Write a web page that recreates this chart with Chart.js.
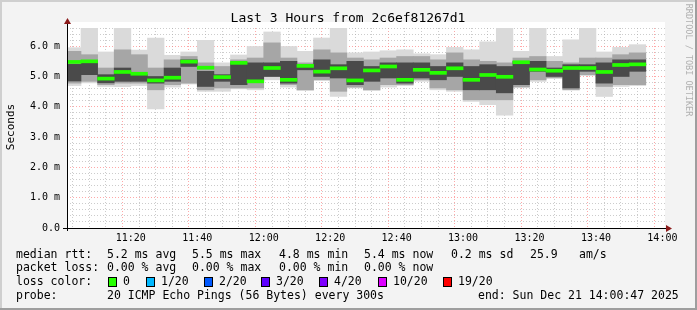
<!DOCTYPE html>
<html>
<head>
<meta charset="utf-8">
<script src="https://cdn.jsdelivr.net/npm/chart.js@4/dist/chart.umd.min.js"></script>
<style>
  html, body { margin: 0; padding: 0; background: #f3f3f3; }
  #pingChart { display: block; }
</style>
</head>
<body>
<canvas id="pingChart" width="697" height="310"></canvas>
<script>
// 5 minute bins (start time of each bin)
const binStarts = ["11:00", "11:05", "11:10", "11:15", "11:20", "11:25", "11:30", "11:35", "11:40",
  "11:45", "11:50", "11:55", "12:00", "12:05", "12:10", "12:15", "12:20", "12:25", "12:30",
  "12:35", "12:40", "12:45", "12:50", "12:55", "13:00", "13:05", "13:10", "13:15", "13:20",
  "13:25", "13:30", "13:35", "13:40", "13:45", "13:50"];

// median rtt (ms)
const medianRtt = [5.48, 5.50, 4.93, 5.15, 5.09, 4.87, 4.96, 5.49, 5.29, 4.98, 5.45, 4.84,
  5.28, 4.89, 5.35, 5.16, 5.27, 4.87, 5.20, 5.33, 4.89, 5.22, 5.12, 5.27, 4.89, 5.05,
  4.99, 5.47, 5.23, 5.19, 5.28, 5.28, 5.15, 5.38, 5.40];

// smoke: outer (min/max), middle and core bands (ms)
const smokeMax = [5.95, 6.61, 5.81, 6.61, 5.87, 6.27, 5.70, 5.81, 6.19, 5.45, 5.71, 5.99,
  6.47, 5.99, 5.83, 6.27, 6.61, 5.78, 5.81, 5.85, 5.88, 5.75, 5.72, 5.96, 5.88, 6.14,
  6.62, 5.83, 6.61, 5.66, 6.21, 6.61, 5.81, 5.96, 6.05];
const smokeMin = [4.70, 4.79, 4.67, 4.66, 4.70, 3.93, 4.65, 4.75, 4.51, 4.51, 4.59, 4.56,
  4.89, 4.65, 4.54, 4.87, 4.34, 4.62, 4.54, 4.65, 4.70, 4.84, 4.56, 4.51, 4.18, 4.07,
  3.72, 4.65, 4.84, 4.95, 4.56, 5.03, 4.34, 4.67, 4.70];
const midHi = [5.83, 5.72, 5.28, 5.88, 5.72, 5.28, 5.55, 5.66, 5.45, 5.33, 5.55, 5.61,
  6.11, 5.61, 5.45, 5.88, 5.78, 5.61, 5.55, 5.61, 5.66, 5.66, 5.55, 5.78, 5.55, 5.50,
  5.45, 5.61, 5.66, 5.50, 5.45, 5.61, 5.61, 5.72, 5.78];
const midLo = [4.78, 4.84, 4.73, 4.78, 4.78, 4.56, 4.73, 4.78, 4.56, 4.62, 4.62, 4.62,
  5.00, 4.73, 4.56, 4.89, 4.51, 4.65, 4.56, 4.73, 4.73, 4.89, 4.62, 4.56, 4.23, 4.23,
  4.23, 4.65, 4.89, 4.95, 4.56, 5.06, 4.67, 4.73, 4.73];
const coreHi = [5.40, 5.50, 5.06, 5.28, 5.06, 5.00, 5.28, 5.55, 5.17, 5.06, 5.45, 5.45,
  5.45, 5.50, 5.39, 5.55, 5.39, 5.50, 5.33, 5.45, 5.45, 5.45, 5.33, 5.45, 5.33, 5.39,
  5.33, 5.50, 5.50, 5.28, 5.39, 5.39, 5.45, 5.55, 5.55];
const coreLo = [4.85, 5.06, 4.79, 4.84, 4.84, 4.78, 4.84, 5.33, 4.67, 4.84, 4.73, 4.84,
  5.00, 4.78, 5.22, 5.00, 4.95, 4.73, 4.84, 4.95, 4.78, 4.95, 4.89, 5.00, 4.56, 4.56,
  4.46, 4.73, 5.17, 5.00, 4.62, 5.17, 4.78, 5.00, 5.17];

// axes
const xTickTimes = ["11:05", "11:10", "11:15", "11:20", "11:25", "11:30", "11:35", "11:40", "11:45",
  "11:50", "11:55", "12:00", "12:05", "12:10", "12:15", "12:20", "12:25", "12:30", "12:35",
  "12:40", "12:45", "12:50", "12:55", "13:00", "13:05", "13:10", "13:15", "13:20", "13:25",
  "13:30", "13:35", "13:40", "13:45", "13:50", "13:55", "14:00"];
const xLabelTimes = ["11:20", "11:40", "12:00", "12:20", "12:40", "13:00", "13:20", "13:40", "14:00"];
const rangeStart = "11:00:47";
const rangeEnd = "14:00:47";

// legend texts
const rttStats = ["5.2 ms avg", "5.5 ms max", "4.8 ms min", "5.4 ms now", "0.2 ms sd", "25.9", "am/s"];
const lossStats = ["0.00 % avg", "0.00 % max", "0.00 % min", "0.00 % now"];
const lossLabels = ["0", "1/20", "2/20", "3/20", "4/20", "10/20", "19/20"];
const lossColors = ["#26ff00", "#00b8ff", "#0059ff", "#5e00ff", "#7e00ff", "#dd00ff", "#ff0000"];
const probeText = "20 ICMP Echo Pings (56 Bytes) every 300s";
const endText = "end: Sun Dec 21 14:00:47 2025";

// minutes after 11:00
function toMin(t) {
  var p = t.split(":").map(Number);
  return (p[0] - 11) * 60 + p[1] + (p[2] || 0) / 60;
}

function band(lo, hi) {
  return binStarts.map((t, i) => ({ x: toMin(t) + 2.5, y: [lo[i], hi[i]] }));
}

const mono = '"DejaVu Sans Mono", "Liberation Mono", monospace';
const xMajor = xLabelTimes.map(toMin);
const majorColor = "rgba(255, 110, 110, 0.6)";
const minorColor = "rgba(170, 170, 170, 0.6)";

const rrdFrame = {
  id: "rrdFrame",
  beforeDraw(chart) {
    const c = chart.ctx, a = chart.chartArea, w = chart.width, h = chart.height;
    c.save();
    c.fillStyle = "#f3f3f3";
    c.fillRect(0, 0, w, h);
    c.fillStyle = "#cfcfcf";
    c.fillRect(0, 0, w, 2);
    c.fillRect(0, 0, 2, h);
    c.fillStyle = "#9e9e9e";
    c.fillRect(0, h - 2, w, 2);
    c.fillRect(w - 2, 0, 2, h);
    c.fillStyle = "#ffffff";
    c.fillRect(a.left, a.top - 6, a.right - a.left, a.bottom - a.top + 6);
    c.restore();
  },
  afterDraw(chart) {
    const c = chart.ctx, a = chart.chartArea;
    c.save();
    // axes with arrows
    c.strokeStyle = "#000";
    c.lineWidth = 1;
    c.beginPath();
    c.moveTo(a.left + 0.5, a.bottom + 3);
    c.lineTo(a.left + 0.5, a.top - 6);
    c.moveTo(a.left - 4, a.bottom + 0.5);
    c.lineTo(a.right + 2, a.bottom + 0.5);
    c.stroke();
    c.fillStyle = "#8b1a1a";
    c.beginPath();
    c.moveTo(a.left + 0.5, a.top - 10);
    c.lineTo(a.left - 3, a.top - 4);
    c.lineTo(a.left + 4, a.top - 4);
    c.fill();
    c.beginPath();
    c.moveTo(a.right + 7, a.bottom + 0.5);
    c.lineTo(a.right + 1, a.bottom - 3);
    c.lineTo(a.right + 1, a.bottom + 4);
    c.fill();

    // title
    c.fillStyle = "#000";
    c.font = "13px " + mono;
    c.textAlign = "center";
    c.textBaseline = "middle";
    c.fillText("Last 3 Hours from 2c6ef81267d1", 348, 19);

    // y title
    c.font = "11px " + mono;
    c.translate(11, 127);
    c.rotate(-Math.PI / 2);
    c.fillText("Seconds", 0, 0);
    c.setTransform(1, 0, 0, 1, 0, 0);

    // watermark
    c.fillStyle = "#b0b0b0";
    c.font = "8.5px " + mono;
    c.translate(688, 60);
    c.rotate(Math.PI / 2);
    c.fillText("RRDTOOL / TOBI OETIKER", 0, 0);
    c.setTransform(1, 0, 0, 1, 0, 0);

    // legend
    c.fillStyle = "#000";
    c.font = "11.5px " + mono;
    c.textAlign = "left";
    const rttX = [107, 192, 279, 364, 451, 530, 579];
    const lossX = [107, 192, 279, 364];
    c.fillText("median rtt:", 16, 255);
    rttStats.forEach((s, i) => c.fillText(s, rttX[i], 255));
    c.fillText("packet loss:", 16, 268.5);
    lossStats.forEach((s, i) => c.fillText(s, lossX[i], 268.5));
    c.fillText("loss color:", 16, 282);
    const boxX = [108, 146, 204, 261, 319, 378, 443];
    lossLabels.forEach((s, i) => {
      c.fillStyle = lossColors[i];
      c.fillRect(boxX[i], 277, 9, 10);
      c.strokeStyle = "#000";
      c.strokeRect(boxX[i] + 0.5, 277.5, 8, 9);
      c.fillStyle = "#000";
      c.fillText(s, boxX[i] + 15, 282);
    });
    c.fillText("probe:", 16, 296);
    c.fillText(probeText, 107, 296);
    c.fillText(endText, 478, 296);
    c.restore();
  }
};

new Chart(document.getElementById("pingChart"), {
  type: "bar",
  data: {
    datasets: [
      // first dataset ends up on top
      { label: "median", data: medianRtt.map((m, i) => ({ x: toMin(binStarts[i]) + 2.5, y: [m - 0.05, m + 0.05] })),
        backgroundColor: lossColors[0] },
      { label: "core", data: band(coreLo, coreHi), backgroundColor: "#4a4a4a" },
      { label: "middle", data: band(midLo, midHi), backgroundColor: "#a6a6a6" },
      { label: "outer", data: band(smokeMin, smokeMax), backgroundColor: "#dadada" },
    ],
  },
  options: {
    responsive: false,
    animation: false,
    devicePixelRatio: 1,
    layout: { padding: { top: 28, right: 32, left: 0, bottom: 0 } },
    datasets: {
      bar: { grouped: false, barPercentage: 1, categoryPercentage: 1, borderWidth: 0 },
    },
    plugins: {
      legend: { display: false },
      tooltip: { enabled: false },
      title: { display: false },
    },
    scales: {
      x: {
        type: "linear",
        offset: false,
        min: toMin(rangeStart),
        max: toMin(rangeEnd),
        z: 1,
        afterBuildTicks: (scale) => {
          scale.ticks = xTickTimes.map((t) => ({ value: toMin(t) }));
        },
        afterFit: (scale) => { scale.height = 82; },
        ticks: {
          autoSkip: false,
          maxRotation: 0,
          padding: 4,
          color: "#000",
          font: { family: mono, size: 10 },
          callback: function (value) {
            var i = xMajor.findIndex((m) => Math.abs(m - value) < 0.01);
            return i >= 0 ? xLabelTimes[i] : "";
          },
        },
        grid: {
          drawTicks: false,
          lineWidth: 1,
          color: (ctx) => {
            if (!ctx.tick) return minorColor;
            return xMajor.some((m) => Math.abs(m - ctx.tick.value) < 0.01) ? majorColor : minorColor;
          },
        },
        border: { display: false, dash: [1, 2] },
      },
      y: {
        min: 0,
        max: 6.6,
        z: 1,
        afterFit: (scale) => { scale.width = 67; },
        ticks: {
          stepSize: 0.2,
          autoSkip: false,
          padding: 7,
          color: "#000",
          font: { family: mono, size: 10 },
          callback: function (value) {
            if (Math.abs(value - Math.round(value)) > 1e-6) return "";
            return value === 0 ? "0.0" : value.toFixed(1) + " m";
          },
        },
        grid: {
          drawTicks: false,
          lineWidth: 1,
          color: (ctx) => {
            if (!ctx.tick) return minorColor;
            return Math.abs(ctx.tick.value - Math.round(ctx.tick.value)) < 1e-6 ? majorColor : minorColor;
          },
        },
        border: { display: false, dash: [1, 2] },
      },
    },
  },
  plugins: [rrdFrame],
});
</script>
</body>
</html>
